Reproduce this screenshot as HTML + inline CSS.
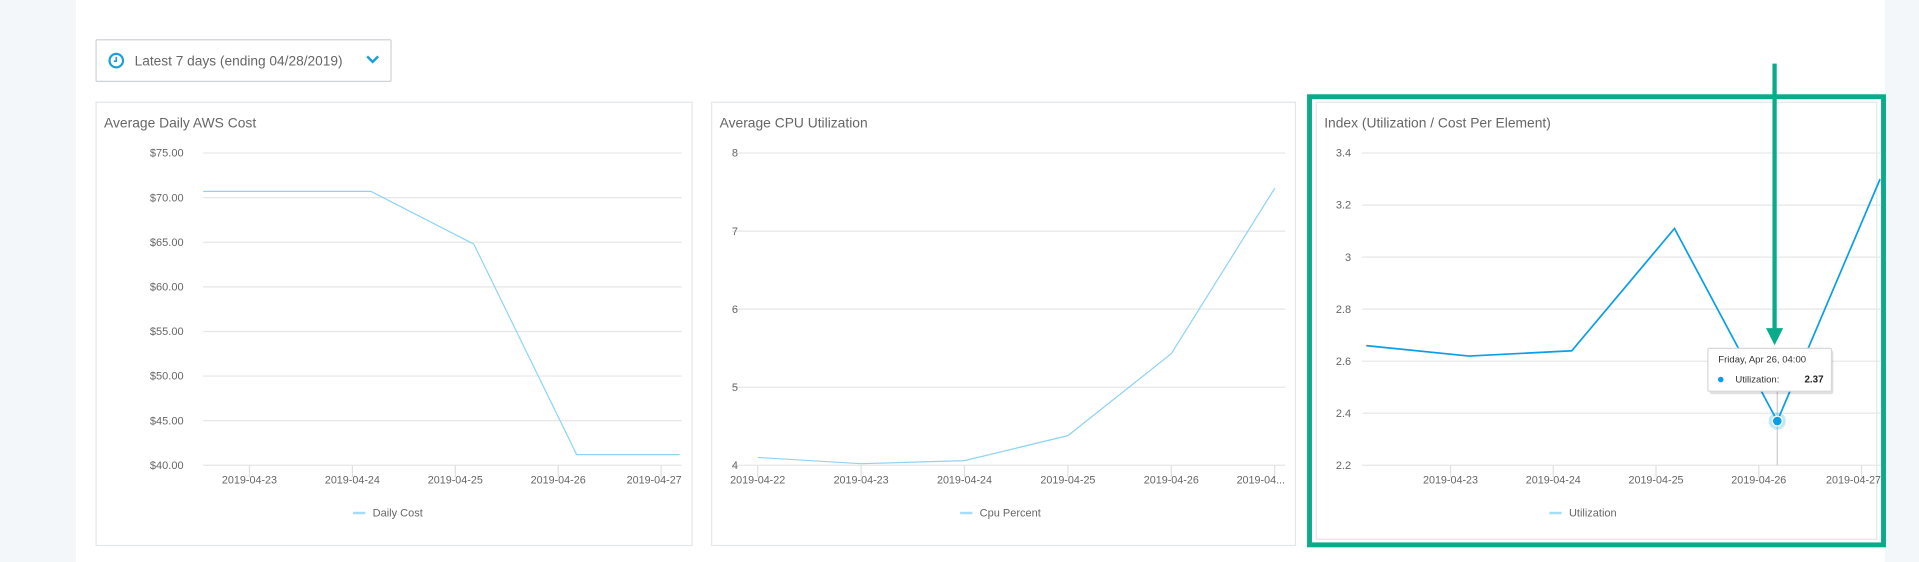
<!DOCTYPE html>
<html><head><meta charset="utf-8"><style>
html,body{margin:0;padding:0;width:1919px;height:562px;overflow:hidden;background:#f4f7fa;font-family:"Liberation Sans",sans-serif}
svg{display:block}
text{font-family:"Liberation Sans",sans-serif}
</style></head><body>
<svg id="s" width="1919" height="562" viewBox="0 0 1568 459" preserveAspectRatio="none">
<rect x="0" y="0" width="1568" height="459" fill="#f4f7fa"/>
<rect x="62" y="0" width="1478" height="459" fill="#ffffff"/>
<g>
<rect x="78.5" y="32.5" width="241" height="34" fill="#fff" stroke="#cfd3d8" rx="1"/>
<circle cx="95" cy="49.5" r="5.5" fill="none" stroke="#1a9fd9" stroke-width="1.8"/>
<path d="M95 46.5v3.5h-2" fill="none" stroke="#1a9fd9" stroke-width="1.3"/>
<text x="110" y="53.5" font-size="11.2" fill="#666">Latest 7 days (ending 04/28/2019)</text>
<path d="M300 46l4.5 4.5 4.5-4.5" fill="none" stroke="#1a9fd9" stroke-width="2"/>
</g>
<g id="c1"></g>
<g id="c2"></g>
<g id="c3"></g>
<rect x="1070" y="79" width="469" height="366" fill="none" stroke="#0aab8a" stroke-width="4"/>
</svg>
<script>
// Chart 1 data
const costDays = [22.18, 23.18, 24.18, 25.18, 26.18, 27.18];
const costValues = [70.7, 70.7, 70.7, 64.8, 41.2, 41.2];
const costTicks = ['$40.00','$45.00','$50.00','$55.00','$60.00','$65.00','$70.00','$75.00'];
const costTickValues = [40,45,50,55,60,65,70,75];
const costXTicks = ['2019-04-23','2019-04-24','2019-04-25','2019-04-26','2019-04-27'];
const costXTickDays = [23,24,25,26,27];
// Chart 2 data
const cpuIdx = [0,1,2,3,4,5];
const cpuValues = [4.1, 4.02, 4.06, 4.38, 5.43, 7.55];
const cpuTicks = ['4','5','6','7','8'];
const cpuTickValues = [4,5,6,7,8];
const cpuXTicks = ['2019-04-22','2019-04-23','2019-04-24','2019-04-25','2019-04-26','2019-04...'];
// Chart 3 data
const utilDays = [22.18, 23.18, 24.18, 25.18, 26.18, 27.18];
const utilValues = [2.66, 2.62, 2.64, 3.11, 2.37, 3.30];
const utilTicks = ['2.2','2.4','2.6','2.8','3','3.2','3.4'];
const utilTickValues = [2.2,2.4,2.6,2.8,3.0,3.2,3.4];
const utilXTicks = ['2019-04-23','2019-04-24','2019-04-25','2019-04-26','2019-04-27'];
const utilXTickDays = [23,24,25,26,27];
const hoverIndex = 4;

const NS='http://www.w3.org/2000/svg';
function mk(parent,tag,attrs,txt){const e=document.createElementNS(NS,tag);for(const k in attrs)e.setAttribute(k,attrs[k]);if(txt!==undefined)e.textContent=txt;parent.appendChild(e);return e;}
let clipN=0;
function chart(g,o){
  const card=mk(g,'rect',{x:o.cx+.5,y:83.5,width:o.cw,height:o.ch,fill:'#fff',stroke:'#e3e6ea'});
  
  
  const t=mk(g,'text',{x:o.cx+7,y:104,'font-size':11.3,fill:'#666'},o.title);
  
  
  const sx=v=>o.x0+(v-o.d0)/(o.d1-o.d0)*(o.x1-o.x0);
  const sy=v=>o.y1-(v-o.v0)/(o.v1-o.v0)*(o.y1-o.y0);
  o.yv.forEach((v,i)=>{
    const l=mk(g,'line',{x1:o.x0,x2:o.x1,y1:sy(v),y2:sy(v),stroke:'#e6e6e6','stroke-width':1});
    
    
    const tx=mk(g,'text',{x:o.lx,y:sy(v)+3,'font-size':9,fill:'#666','text-anchor':'end'},o.yl[i]);
    
    
  });
  o.xv.forEach((v,i)=>{
    const x=sx(v);
    const tk=mk(g,'line',{x1:x,x2:x,y1:o.y1,y2:o.y1+10,stroke:'#e0e0e0'});
    
    
    const anchor=(x+24>o.x1)?'end':'middle';
    const tx=mk(g,'text',{x:anchor==='end'?o.x1:x,y:o.y1+15,'font-size':8.8,fill:'#666','text-anchor':anchor},o.xl[i]);
    
    
  });
  const id='cl'+(clipN++);
  const cp=mk(g,'clipPath',{id:id});
  mk(cp,'rect',{x:o.x0,y:o.y0-30,width:o.x1-o.x0,height:o.y1-o.y0+40});
  const pts=o.xs.map((d,i)=>sx(d).toFixed(1)+','+sy(o.ys[i]).toFixed(1)).join(' ');
  const pl=mk(g,'polyline',{points:pts,fill:'none',stroke:o.color,'stroke-width':o.sw,'clip-path':'url(#'+id+')'});
  
  
  const lc=o.cx+o.cw/2;
  const sw=mk(g,'line',{x1:lc-46+o.lo,x2:lc-36+o.lo,y1:419,y2:419,stroke:'#a6dcf5','stroke-width':2});
  
  
  const lt=mk(g,'text',{x:lc-30+o.lo,y:422,'font-size':9,fill:'#666'},o.legend);
  
  
  return {sx,sy};
}
chart(document.getElementById('c1'),{cx:78,cw:487,ch:362,title:'Average Daily AWS Cost',x0:166,x1:557,y0:125,y1:380,d0:22.55,d1:27.2,v0:40,v1:75,yv:costTickValues,yl:costTicks,lx:150,xv:costXTickDays,xl:costXTicks,xs:costDays,ys:costValues,color:'#8fd3f4',sw:1,legend:'Daily Cost',lo:13});
chart(document.getElementById('c2'),{cx:581,cw:477,ch:362,title:'Average CPU Utilization',x0:598,x1:1050,y0:125,y1:380,d0:-0.25,d1:5.1,v0:4,v1:8,yv:cpuTickValues,yl:cpuTicks,lx:603,xv:cpuIdx,xl:cpuXTicks,xs:cpuIdx,ys:cpuValues,color:'#8fd3f4',sw:1,legend:'Cpu Percent',lo:11});
const s3=chart(document.getElementById('c3'),{cx:1075,cw:458,ch:357,title:'Index (Utilization / Cost Per Element)',x0:1113,x1:1537,y0:125,y1:380,d0:22.14,d1:27.19,v0:2.2,v1:3.4,yv:utilTickValues,yl:utilTicks,lx:1104,xv:utilXTickDays,xl:utilXTicks,xs:utilDays,ys:utilValues,color:'#0a9ee8',sw:1.4,legend:'Utilization',lo:8});
// hover state
const g3=document.getElementById('c3');
const hx=s3.sx(utilDays[hoverIndex]), hy=s3.sy(utilValues[hoverIndex]);
const ch=mk(g3,'line',{x1:hx,x2:hx,y1:300,y2:380,stroke:'#cccccc'});


const halo=mk(g3,'circle',{cx:hx,cy:hy,r:7,fill:'#0a9ee8','fill-opacity':0.25});


const dot=mk(g3,'circle',{cx:hx,cy:hy,r:4,fill:'#0a9ee8',stroke:'#fff','stroke-width':1});


const tt=mk(g3,'g',{});


mk(tt,'rect',{x:1397,y:286,width:101,height:36,fill:'#000','fill-opacity':0.12,rx:2});
mk(tt,'rect',{x:1395.5,y:284.5,width:101,height:35,fill:'#fff',stroke:'#d8d8d8',rx:1});
mk(tt,'text',{x:1404,y:296,'font-size':7.8,fill:'#333'},'Friday, Apr 26, 04:00');
mk(tt,'circle',{cx:1406,cy:310,r:2.3,fill:'#0a9ee8'});
mk(tt,'text',{x:1418,y:312.5,'font-size':7.8,fill:'#333'},'Utilization:');
mk(tt,'text',{x:1490,y:312.5,'font-size':8,fill:'#222','font-weight':'bold','text-anchor':'end'},utilValues[hoverIndex].toFixed(2));
const ar=mk(g3,'g',{});


mk(ar,'line',{x1:1450,x2:1450,y1:52,y2:272,stroke:'#0aab8a','stroke-width':3.5});
mk(ar,'path',{d:'M1443 268 L1457 268 L1450 282 Z',fill:'#0aab8a'});
</script>
</body></html>
